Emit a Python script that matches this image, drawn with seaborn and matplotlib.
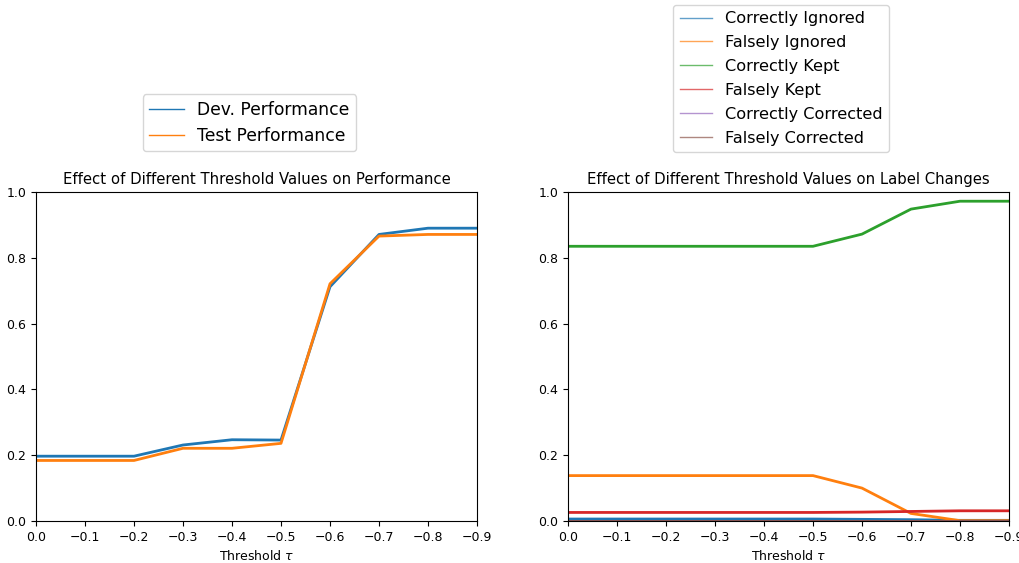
import matplotlib
matplotlib.use("Agg")
import matplotlib.pyplot as plt
from matplotlib.lines import Line2D
import seaborn as sns
import pandas as pd

thresholds = [0.0, -0.1, -0.2, -0.3, -0.4, -0.5, -0.6, -0.7, -0.8, -0.9]
dev_perf = [0.197, 0.197, 0.197, 0.231, 0.247, 0.246, 0.712, 0.871, 0.89, 0.89]
test_perf = [0.184, 0.184, 0.184, 0.221, 0.221, 0.236, 0.721, 0.866, 0.871, 0.871]

correctly_ignored = [0.006, 0.006, 0.006, 0.006, 0.006, 0.006, 0.005, 0.004, 0.002, 0.002]
falsely_ignored = [0.138, 0.138, 0.138, 0.138, 0.138, 0.138, 0.1, 0.023, 0.001, 0.001]
correctly_kept = [0.835, 0.835, 0.835, 0.835, 0.835, 0.835, 0.872, 0.948, 0.972, 0.972]
falsely_kept = [0.026, 0.026, 0.026, 0.026, 0.026, 0.026, 0.027, 0.029, 0.031, 0.031]
correctly_corrected = [0.0, 0.0, 0.0, 0.0, 0.0, 0.0, 0.0, 0.0, 0.0, 0.0]
falsely_corrected = [0.0, 0.0, 0.0, 0.0, 0.0, 0.0, 0.0, 0.0, 0.0, 0.0]

perf_names = ["Dev. Performance", "Test Performance"]
change_names = ["Correctly Ignored", "Falsely Ignored", "Correctly Kept",
                "Falsely Kept", "Correctly Corrected", "Falsely Corrected"]

colors = sns.color_palette("tab10")

fig = plt.figure(figsize=(10.2, 5.63), dpi=100)
ax1 = fig.add_axes([36/1020, 42/563, 441/1020, 329/563])
ax2 = fig.add_axes([568/1020, 42/563, 441/1020, 329/563])

for i, (name, vals) in enumerate(zip(perf_names, [dev_perf, test_perf])):
    df = pd.DataFrame({"t": thresholds, "v": vals})
    sns.lineplot(data=df, x="t", y="v", ax=ax1, color=colors[i], linewidth=2)

series = [correctly_ignored, falsely_ignored, correctly_kept, falsely_kept,
          correctly_corrected, falsely_corrected]
for i, (name, vals) in enumerate(zip(change_names, series)):
    df = pd.DataFrame({"t": thresholds, "v": vals})
    sns.lineplot(data=df, x="t", y="v", ax=ax2, color=colors[i], linewidth=2)

for ax, title in [(ax1, "Effect of Different Threshold Values on Performance"),
                  (ax2, "Effect of Different Threshold Values on Label Changes")]:
    ax.set_xlim(0, -0.9)
    ax.set_ylim(0, 1)
    ax.set_xticks(thresholds)
    ax.set_title(title, fontsize=10.7, pad=5.5)
    ax.set_xlabel(r"Threshold $\tau$", fontsize=9)
    ax.set_ylabel("")
    ax.tick_params(labelsize=9)

h1 = [Line2D([], [], color=colors[i], lw=1) for i in range(2)]
fig.legend(h1, perf_names, loc="lower center", bbox_to_anchor=(249.5/1020, (563-160)/563),
           fontsize=12.3, labelspacing=0.45)
h2 = [Line2D([], [], color=colors[i], lw=1, alpha=0.7) for i in range(6)]
fig.legend(h2, change_names, loc="lower center", bbox_to_anchor=(781/1020, (563-160)/563),
           fontsize=11.6, labelspacing=0.55)

fig.savefig("out.png", dpi=100)
